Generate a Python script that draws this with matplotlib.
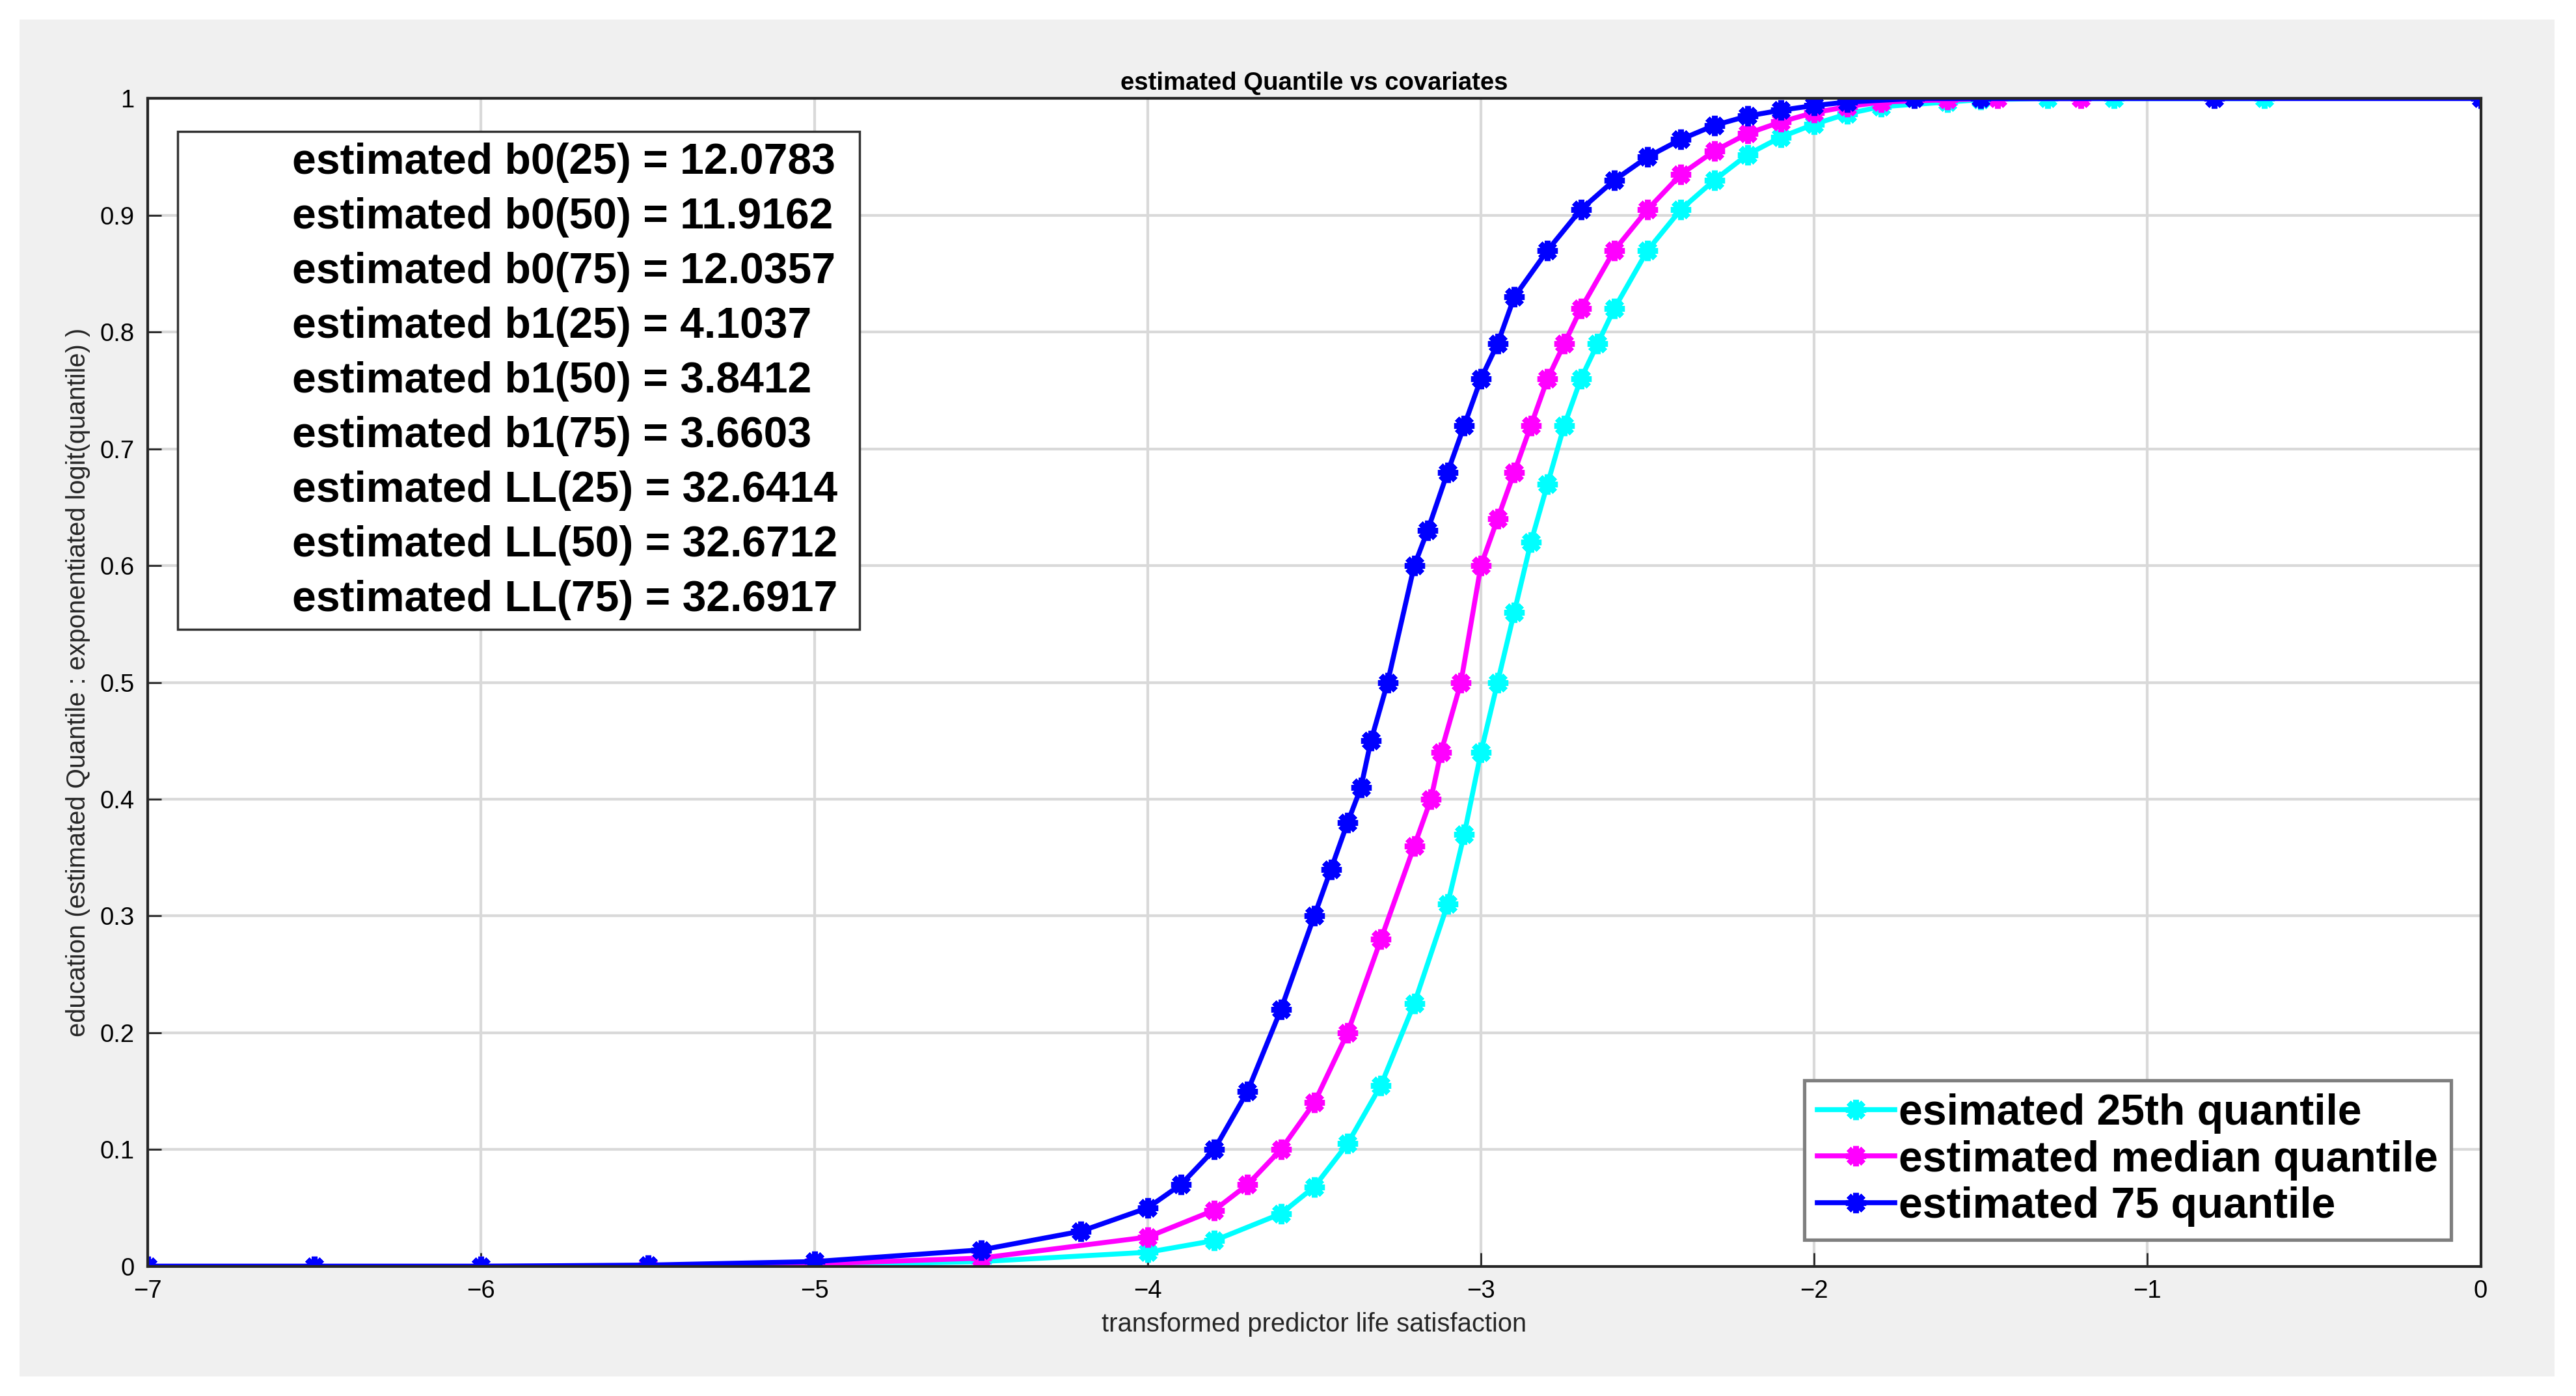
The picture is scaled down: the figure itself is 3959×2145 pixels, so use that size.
import numpy as np
import matplotlib.pyplot as plt
from matplotlib.patches import Rectangle

# values
x_q25 = [-7.0, -6.5, -6.0, -5.5, -5.0, -4.5, -4.0, -3.8, -3.6, -3.5, -3.4, -3.3, -3.2, -3.1,
         -3.05, -3.0, -2.95, -2.9, -2.85, -2.8, -2.75, -2.7, -2.65, -2.6, -2.5, -2.4, -2.3,
         -2.2, -2.1, -2.0, -1.9, -1.8, -1.6, -1.5, -1.3, -1.1, -0.65]
y_q25 = [0.0, 0.0, 0.0, 0.0, 0.001, 0.004, 0.012, 0.022, 0.045, 0.068, 0.105, 0.155, 0.225, 0.31,
         0.37, 0.44, 0.50, 0.56, 0.62, 0.67, 0.72, 0.76, 0.79, 0.82, 0.87, 0.905, 0.93,
         0.952, 0.967, 0.978, 0.987, 0.993, 0.997, 0.999, 1.0, 1.0, 1.0]

x_q50 = [-7.0, -6.5, -6.0, -5.5, -5.0, -4.5, -4.0, -3.8, -3.7, -3.6, -3.5, -3.4, -3.3, -3.2,
         -3.15, -3.12, -3.06, -3.0, -2.95, -2.9, -2.85, -2.8, -2.75, -2.7, -2.6, -2.5, -2.4,
         -2.3, -2.2, -2.1, -2.0, -1.9, -1.8, -1.6, -1.45, -1.2]
y_q50 = [0.0, 0.0, 0.0, 0.0, 0.002, 0.007, 0.025, 0.048, 0.07, 0.10, 0.14, 0.20, 0.28, 0.36,
         0.40, 0.44, 0.50, 0.60, 0.64, 0.68, 0.72, 0.76, 0.79, 0.82, 0.87, 0.905, 0.935,
         0.955, 0.97, 0.98, 0.988, 0.993, 0.997, 0.999, 1.0, 1.0]

x_q75 = [-7.0, -6.5, -6.0, -5.5, -5.0, -4.5, -4.2, -4.0, -3.9, -3.8, -3.7, -3.6, -3.5, -3.45,
         -3.4, -3.36, -3.33, -3.28, -3.2, -3.16, -3.1, -3.05, -3.0, -2.95, -2.9, -2.8, -2.7,
         -2.6, -2.5, -2.4, -2.3, -2.2, -2.1, -2.0, -1.9, -1.7, -1.5, -0.8, 0.0]
y_q75 = [0.0, 0.0, 0.0, 0.001, 0.004, 0.014, 0.03, 0.05, 0.07, 0.10, 0.15, 0.22, 0.30, 0.34,
         0.38, 0.41, 0.45, 0.50, 0.60, 0.63, 0.68, 0.72, 0.76, 0.79, 0.83, 0.87, 0.905,
         0.93, 0.95, 0.965, 0.977, 0.985, 0.99, 0.994, 0.997, 1.0, 1.0, 1.0, 1.0]

series_labels = ['esimated 25th quantile', 'estimated median quantile', 'estimated 75 quantile']
series_colors = ['#00ffff', '#ff00ff', '#0000ff']

stats_lines = ['estimated b0(25) = 12.0783', 'estimated b0(50) = 11.9162',
               'estimated b0(75) = 12.0357', 'estimated b1(25) = 4.1037',
               'estimated b1(50) = 3.8412', 'estimated b1(75) = 3.6603',
               'estimated LL(25) = 32.6414', 'estimated LL(50) = 32.6712',
               'estimated LL(75) = 32.6917']

plt.rcParams['font.family'] = ['Liberation Sans', 'DejaVu Sans']

fig = plt.figure(figsize=(15.836, 8.58), dpi=250, facecolor='white')
fig.patches.append(Rectangle((12 / 1568, 12 / 850), 1543 / 1568, 826 / 850,
                             transform=fig.transFigure, facecolor='#f0f0f0',
                             edgecolor='none', zorder=-10))
ax = fig.add_axes([90 / 1568, 1 - 771 / 850, 1420 / 1568, 711 / 850])

for xs, ys, lab, col in zip([x_q25, x_q50, x_q75], [y_q25, y_q50, y_q75],
                            series_labels, series_colors):
    ax.plot(xs, ys, color=col, lw=2.2, marker=(8, 2, 0), ms=9, mew=2.6,
            mec=col, label=lab)

ax.set_xlim(-7, 0)
ax.set_ylim(0, 1)
ax.set_xticks(np.arange(-7, 1, 1))
ax.set_yticks(np.arange(0, 1.01, 0.1))
ax.set_yticklabels(['0'] + [f'{v:.1f}' for v in np.arange(0.1, 0.95, 0.1)] + ['1'])
ax.grid(color='#d9d9d9', lw=1.2)
ax.set_axisbelow(True)
ax.tick_params(labelsize=11, direction='in', length=6, color='#262626', pad=6)
for s in ax.spines.values():
    s.set_color('#262626')
    s.set_linewidth(1.2)

ax.set_title('estimated Quantile vs covariates', fontsize=11, fontweight='bold', pad=4)
ax.set_xlabel('transformed predictor life satisfaction', fontsize=11.5, color='#262626', labelpad=4)
ax.set_ylabel('education (estimated Quantile : exponentiated logit(quantile) )', fontsize=11.5,
              color='#262626', labelpad=4)

# stats box
fig.patches.append(Rectangle((108 / 1568, 1 - 383 / 850), 415 / 1568, 303 / 850,
                             transform=fig.transFigure, facecolor='white',
                             edgecolor='#333333', lw=1.0, zorder=5))
for i, line in enumerate(stats_lines):
    fig.text(178 / 1568, 1 - (99 + 33.3 * i) / 850, line, fontsize=19, fontweight='bold',
             va='center', ha='left', zorder=6)

leg = ax.legend(loc='lower right', bbox_to_anchor=(1 - 18 / 1420, 16 / 711),
                prop={'weight': 'bold', 'size': 19}, frameon=True,
                fancybox=False, edgecolor='#7f7f7f', framealpha=1, borderpad=0.3,
                labelspacing=0.15, handlelength=1.8, handletextpad=0.1, borderaxespad=0)
leg.get_frame().set_linewidth(1.5)

fig.savefig('out.png', dpi=250, facecolor=fig.get_facecolor())
